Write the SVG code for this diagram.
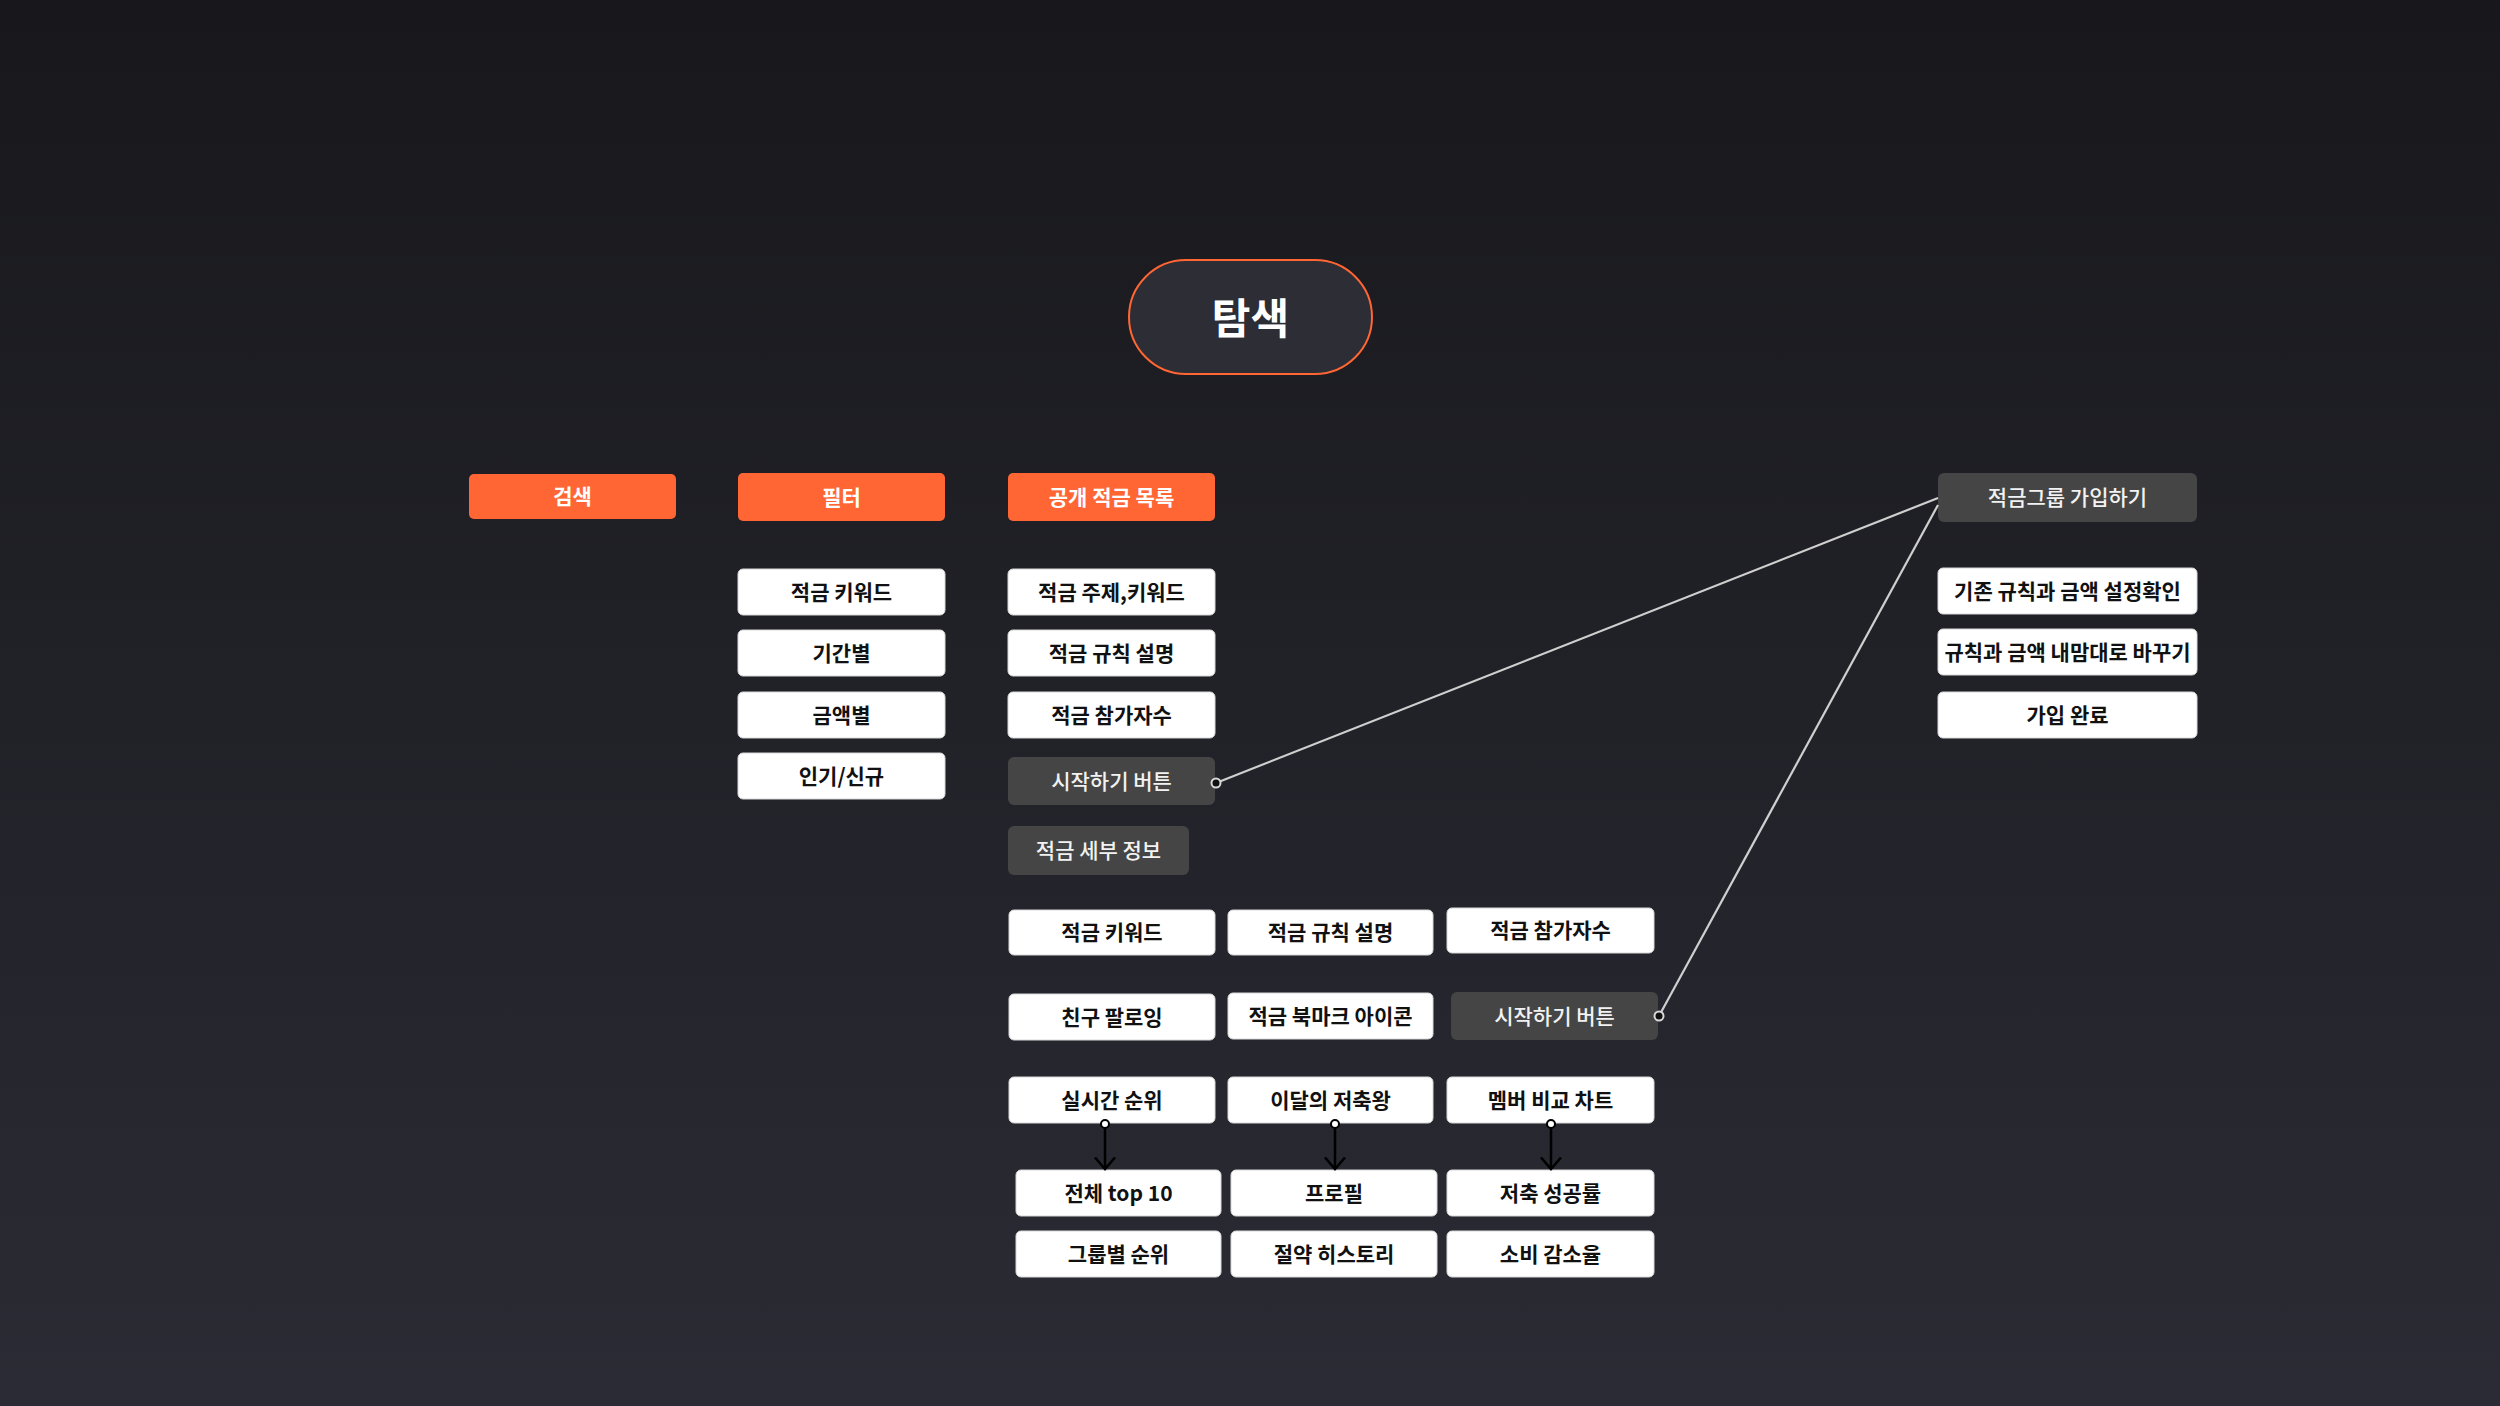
<svg xmlns="http://www.w3.org/2000/svg" width="2500" height="1406" viewBox="0 0 2500 1406">
<defs>
<linearGradient id="bg" x1="0" y1="0" x2="0" y2="1">
<stop offset="0" stop-color="#18181c"/>
<stop offset="1" stop-color="#2a2b34"/>
</linearGradient>
<marker id="arr" viewBox="0 0 14 22" refX="12.5" refY="11" markerWidth="14" markerHeight="22" markerUnits="userSpaceOnUse" orient="auto">
<path d="M1 1 L12.5 11 L1 21" fill="none" stroke="#000" stroke-width="2.5"/>
</marker>
<style>
text{font-family:"Noto Sans CJK KR","Noto Sans",sans-serif;text-anchor:middle;dominant-baseline:central}
.o rect{fill:#ff6633}
.o text{fill:#fff;font-size:21px;font-weight:700}
.g rect{fill:#454545}
.g text{fill:#f2f2f2;font-size:21px;font-weight:500}
.w rect{fill:#fff;stroke:#d8d8d8;stroke-width:1}
.w text{fill:#111;font-size:21px;font-weight:700}
.ln{stroke:#cfcfcf;stroke-width:2.2;fill:none}
.dot{fill:#111;stroke:#d8d8d8;stroke-width:2}
.ar{stroke:#000;stroke-width:2.5;fill:none}
.adot{fill:#fff;stroke:#000;stroke-width:2}
</style>
</defs>
<rect width="2500" height="1406" fill="url(#bg)"/>

<g id="root">
<rect x="1129" y="260" width="243" height="114" rx="57" fill="#2c2d35" stroke="#ff6633" stroke-width="2"/>
<text x="1250.5" y="315" fill="#fff" font-size="42" font-weight="700">탐색</text>
</g>

<g id="n-search" class="o"><rect x="469" y="474" width="207" height="45" rx="5"/><text x="572.5" y="495">검색</text></g>
<g id="n-filter" class="o"><rect x="738" y="473" width="207" height="48" rx="5"/><text x="841.5" y="496">필터</text></g>
<g id="n-list" class="o"><rect x="1008" y="473" width="207" height="48" rx="5"/><text x="1111.5" y="496">공개 적금 목록</text></g>
<g id="n-join" class="g"><rect x="1938" y="473" width="259" height="49" rx="6"/><text x="2067.5" y="496">적금그룹 가입하기</text></g>

<g id="f1" class="w"><rect x="738" y="569" width="207" height="46" rx="5"/><text x="841.5" y="591">적금 키워드</text></g>
<g id="f2" class="w"><rect x="738" y="630" width="207" height="46" rx="5"/><text x="841.5" y="652">기간별</text></g>
<g id="f3" class="w"><rect x="738" y="692" width="207" height="46" rx="5"/><text x="841.5" y="714">금액별</text></g>
<g id="f4" class="w"><rect x="738" y="753" width="207" height="46" rx="5"/><text x="841.5" y="775">인기/신규</text></g>

<g id="l1" class="w"><rect x="1008" y="569" width="207" height="46" rx="5"/><text x="1111.5" y="591">적금 주제,키워드</text></g>
<g id="l2" class="w"><rect x="1008" y="630" width="207" height="46" rx="5"/><text x="1111.5" y="652">적금 규칙 설명</text></g>
<g id="l3" class="w"><rect x="1008" y="692" width="207" height="46" rx="5"/><text x="1111.5" y="714">적금 참가자수</text></g>
<g id="l4" class="g"><rect x="1008" y="757" width="207" height="48" rx="6"/><text x="1111.5" y="780">시작하기 버튼</text></g>
<g id="d0" class="g"><rect x="1008" y="826" width="181" height="49" rx="6"/><text x="1098.5" y="849">적금 세부 정보</text></g>

<g id="a1" class="w"><rect x="1009" y="910" width="206" height="45" rx="5"/><text x="1112" y="931">적금 키워드</text></g>
<g id="a2" class="w"><rect x="1228" y="910" width="205" height="45" rx="5"/><text x="1330.5" y="931">적금 규칙 설명</text></g>
<g id="a3" class="w"><rect x="1447" y="908" width="207" height="45" rx="5"/><text x="1550.5" y="929">적금 참가자수</text></g>

<g id="b1" class="w"><rect x="1009" y="994" width="206" height="46" rx="5"/><text x="1112" y="1016">친구 팔로잉</text></g>
<g id="b2" class="w"><rect x="1228" y="993" width="205" height="46" rx="5"/><text x="1330.5" y="1015">적금 북마크 아이콘</text></g>
<g id="b3" class="g"><rect x="1451" y="992" width="207" height="48" rx="6"/><text x="1554.5" y="1015">시작하기 버튼</text></g>

<g id="c1" class="w"><rect x="1009" y="1077" width="206" height="46" rx="5"/><text x="1112" y="1099">실시간 순위</text></g>
<g id="c2" class="w"><rect x="1228" y="1077" width="205" height="46" rx="5"/><text x="1330.5" y="1099">이달의 저축왕</text></g>
<g id="c3" class="w"><rect x="1447" y="1077" width="207" height="46" rx="5"/><text x="1550.5" y="1099">멤버 비교 차트</text></g>

<g id="e1" class="w"><rect x="1016" y="1170" width="205" height="46" rx="5"/><text x="1118.5" y="1192">전체 top 10</text></g>
<g id="e2" class="w"><rect x="1231" y="1170" width="206" height="46" rx="5"/><text x="1334" y="1192">프로필</text></g>
<g id="e3" class="w"><rect x="1447" y="1170" width="207" height="46" rx="5"/><text x="1550.5" y="1192">저축 성공률</text></g>

<g id="g1" class="w"><rect x="1016" y="1231" width="205" height="46" rx="5"/><text x="1118.5" y="1253">그룹별 순위</text></g>
<g id="g2" class="w"><rect x="1231" y="1231" width="206" height="46" rx="5"/><text x="1334" y="1253">절약 히스토리</text></g>
<g id="g3" class="w"><rect x="1447" y="1231" width="207" height="46" rx="5"/><text x="1550.5" y="1253">소비 감소율</text></g>

<g id="r1" class="w"><rect x="1938" y="568" width="259" height="46" rx="5"/><text x="2067.5" y="590">기존 규칙과 금액 설정확인</text></g>
<g id="r2" class="w"><rect x="1938" y="629" width="259" height="46" rx="5"/><text x="2067.5" y="651">규칙과 금액 내맘대로 바꾸기</text></g>
<g id="r3" class="w"><rect x="1938" y="692" width="259" height="46" rx="5"/><text x="2067.5" y="714">가입 완료</text></g>

<g id="connectors">
<path class="ln" d="M1216 783 L1938 498"/>
<circle class="dot" cx="1216" cy="783" r="4.5"/>
<path class="ln" d="M1659 1016 L1938 505"/>
<circle class="dot" cx="1659" cy="1016" r="4.5"/>
<path class="ar" d="M1105 1124 L1105 1169" marker-end="url(#arr)"/>
<circle class="adot" cx="1105" cy="1124" r="4"/>
<path class="ar" d="M1335 1124 L1335 1169" marker-end="url(#arr)"/>
<circle class="adot" cx="1335" cy="1124" r="4"/>
<path class="ar" d="M1551 1124 L1551 1169" marker-end="url(#arr)"/>
<circle class="adot" cx="1551" cy="1124" r="4"/>
</g>
</svg>
